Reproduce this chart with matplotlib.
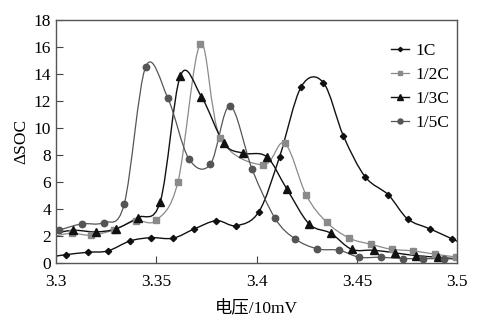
import numpy as np
import matplotlib
matplotlib.use("Agg")
import matplotlib.pyplot as plt
from matplotlib.path import Path
from matplotlib.patches import PathPatch

plt.rcParams['font.family'] = ['Liberation Serif', 'Noto Sans CJK SC']

# 1C
x_1c = [3.3, 3.3049, 3.3159, 3.3259, 3.337, 3.3475, 3.3584, 3.369, 3.38, 3.39, 3.4012,
        3.4115, 3.4223, 3.4333, 3.4433, 3.4541, 3.4657, 3.4753, 3.4865, 3.4975, 3.5]
y_1c = [0.5, 0.61, 0.79, 0.89, 1.63, 1.87, 1.83, 2.52, 3.13, 2.76, 3.8,
        7.87, 13.06, 13.36, 9.41, 6.39, 5.04, 3.26, 2.52, 1.78, 1.6]
# 1/2C
x_2c = [3.3, 3.3078, 3.3177, 3.3287, 3.3397, 3.35, 3.3608, 3.372, 3.382, 3.4032, 3.414,
        3.4248, 3.435, 3.4463, 3.457, 3.4673, 3.4781, 3.4891, 3.4995, 3.5]
y_2c = [2.0, 2.2, 2.05, 2.44, 3.13, 3.16, 6.0, 16.22, 9.24, 7.26, 8.87,
        5.01, 3.01, 1.83, 1.38, 1.01, 0.89, 0.64, 0.44, 0.42]
# 1/3C
x_3c = [3.3, 3.3087, 3.3198, 3.3298, 3.3407, 3.352, 3.362, 3.3725, 3.3837, 3.3932, 3.405,
        3.415, 3.4262, 3.437, 3.4474, 3.4584, 3.4692, 3.4795, 3.4903, 3.5]
y_3c = [2.2, 2.42, 2.3, 2.52, 3.36, 4.54, 13.85, 12.32, 8.87, 8.13, 7.87,
        5.5, 2.89, 2.2, 1.01, 0.94, 0.74, 0.54, 0.42, 0.3]
# 1/5C
x_5c = [3.3, 3.3017, 3.3128, 3.3237, 3.334, 3.3447, 3.3558, 3.3662, 3.377, 3.3867, 3.3978,
        3.4092, 3.4192, 3.4303, 3.4412, 3.4512, 3.462, 3.4731, 3.4832, 3.4937, 3.5]
y_5c = [2.4, 2.44, 2.89, 2.99, 4.35, 14.52, 12.2, 7.73, 7.31, 11.63, 6.94,
        3.31, 1.78, 1.04, 0.94, 0.42, 0.42, 0.32, 0.32, 0.3, 0.3]

labels = ['1C', '1/2C', '1/3C', '1/5C']


def spline_path(x, y):
    # Catmull-Rom through the points, drawn as cubic Bezier segments
    p = np.column_stack([x, y])
    verts = [p[0]]
    codes = [Path.MOVETO]
    n = len(p)
    for i in range(n - 1):
        p0 = p[max(i - 1, 0)]
        p1 = p[i]
        p2 = p[i + 1]
        p3 = p[min(i + 2, n - 1)]
        verts += [p1 + (p2 - p0) / 6, p2 - (p3 - p1) / 6, p2]
        codes += [Path.CURVE4] * 3
    return Path(verts, codes)


fig = plt.figure(figsize=(4.91, 3.27), dpi=100)
ax = fig.add_axes([0.114, 0.196, 0.817, 0.743])

series = [
    (x_1c, y_1c, '#111111', 'D', 3.2, 1.0),
    (x_2c, y_2c, '#8a8a8a', 's', 4.2, 0.9),
    (x_3c, y_3c, '#111111', '^', 5.2, 1.0),
    (x_5c, y_5c, '#555555', 'o', 4.6, 0.9),
]

handles = []
for (x, y, c, m, ms, lw), lab in zip(series, labels):
    ax.add_patch(PathPatch(spline_path(x, y), fill=False, edgecolor=c, lw=lw))
    ax.plot(x[1:-1], y[1:-1], ls='none', marker=m, ms=ms, color=c)
    h, = ax.plot([], [], color=c, marker=m, ms=ms - 1, lw=lw)
    handles.append(h)

ax.set_xlim(3.3, 3.5)
ax.set_ylim(0, 18)
ax.set_xticks([3.3, 3.35, 3.4, 3.45, 3.5])
ax.set_xticklabels(['3.3', '3.35', '3.4', '3.45', '3.5'])
ax.set_yticks(range(0, 19, 2))
ax.tick_params(direction='in', length=5, width=0.8, labelsize=12.5, color='#444444')
ax.tick_params(axis='x', pad=8)
for s in ax.spines.values():
    s.set_color('#555555')
    s.set_linewidth(1.0)

ax.set_xlabel('电压/10mV', fontsize=12.5, labelpad=7)
ax.set_ylabel('ΔSOC', fontsize=12.5, labelpad=3)

ax.legend(handles, labels, loc='upper right', frameon=False, fontsize=12.5,
          handlelength=1.0, handletextpad=0.4, labelspacing=0.45,
          bbox_to_anchor=(1.02, 0.97))

fig.savefig('out.png', dpi=100)
